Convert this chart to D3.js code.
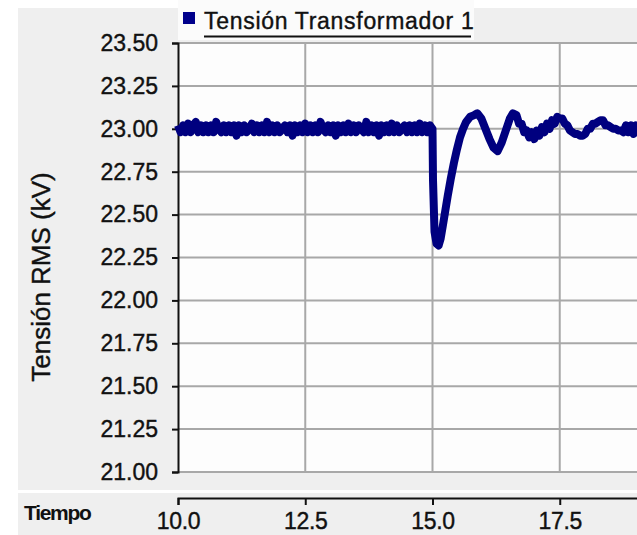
<!DOCTYPE html>
<html>
<head>
<meta charset="utf-8">
<script src="https://cdn.jsdelivr.net/npm/d3@7"></script>
<style>
  body { margin: 0; background: #fff; }
  text { font-family: "Liberation Sans", Arial, sans-serif; fill: #111; }
</style>
</head>
<body>
<svg width="637" height="535"></svg>
<script>
// Series: RMS voltage (kV) against time (s)
var seriesName = "Tensión Transformador 1";

// before the fault: sampled every 0.05 s from 10.00 to 15.00
var preStart = 10.0, sampleStep = 0.05;
var preValues = [23.02, 22.98, 23.02, 22.98, 23.03, 22.98, 23.02, 23.04, 22.98, 23.02,
  22.98, 23.02, 22.98, 23.02, 22.98, 23.04, 23.00, 22.98, 23.02, 22.98,
  23.02, 22.98, 23.02, 22.96, 23.02, 22.98, 23.02, 22.98, 23.00, 23.03,
  22.98, 23.02, 22.98, 23.02, 22.98, 23.04, 22.98, 23.02, 22.98, 23.02,
  22.98, 23.00, 23.02, 22.98, 23.02, 22.96, 23.02, 22.98, 23.02, 22.98,
  23.03, 22.98, 23.02, 22.98, 23.02, 22.98, 23.04, 23.00, 22.98, 23.02,
  22.98, 23.02, 22.96, 23.02, 22.98, 23.02, 22.98, 23.03, 22.98, 23.02,
  22.98, 23.02, 23.00, 22.98, 23.04, 22.98, 23.02, 22.98, 23.02, 22.96,
  23.02, 22.98, 23.02, 22.98, 23.03, 22.98, 23.02, 22.98, 23.00, 23.02,
  22.98, 23.02, 22.98, 23.02, 22.98, 23.03, 22.98, 23.02, 22.98, 23.02,
  23.00];

// fault and recovery, uneven sample times
var faultTimes = [15.01, 15.04, 15.08, 15.12, 15.16, 15.20, 15.25, 15.30, 15.36, 15.42,
  15.48, 15.54, 15.60, 15.66, 15.74, 15.82, 15.88, 15.96, 16.04, 16.12,
  16.20, 16.28, 16.36, 16.44, 16.52, 16.58];
var faultValues = [22.70, 22.40, 22.33, 22.32, 22.36, 22.43, 22.52, 22.61, 22.71, 22.80,
  22.88, 22.95, 23.00, 23.04, 23.07, 23.08, 23.09, 23.06, 23.00, 22.94,
  22.89, 22.87, 22.92, 22.99, 23.06, 23.09];

// settling: sampled every 0.05 s from 16.65 to 20.00
var postStart = 16.65;
var postValues = [23.08, 23.03, 23.03, 22.98, 22.99, 22.95, 22.98, 22.94, 22.99, 22.96,
  23.01, 22.98, 23.03, 23.00, 23.05, 23.03, 23.07, 23.06, 23.06, 23.03,
  23.02, 22.99, 22.98, 22.97, 22.97, 22.96, 22.96, 22.97, 23.00, 23.00,
  23.03, 23.03, 23.04, 23.05, 23.05, 23.02, 23.02, 23.01, 23.00, 23.00,
  22.99, 22.99, 22.98, 23.02, 22.98, 23.02, 22.97, 23.02, 22.98, 23.03,
  22.98, 23.02, 22.97, 23.02, 23.00, 22.98, 23.03, 22.98, 23.02, 22.97,
  23.02, 22.98, 23.03, 22.98, 23.02, 22.98, 23.00, 23.02];

var yTicks = [21.00, 21.25, 21.50, 21.75, 22.00, 22.25, 22.50, 22.75, 23.00, 23.25, 23.50];
var xTicks = [10.0, 12.5, 15.0, 17.5];

var svg = d3.select("svg"),
    width = +svg.attr("width"),
    height = +svg.attr("height");

var data = preValues.map(function(v, i) { return { t: preStart + i * sampleStep, v: v }; })
  .concat(faultTimes.map(function(t, i) { return { t: t, v: faultValues[i] }; }))
  .concat(postValues.map(function(v, i) { return { t: postStart + i * sampleStep, v: v }; }));

// Scales (the plot runs past the right edge of the window)
var x = d3.scaleLinear().domain([10, 20]).range([178, 687]);
var y = d3.scaleLinear().domain([21, 23.5]).range([472, 43]);

// Grey panels behind everything
svg.append("rect").attr("x", 18).attr("y", 8).attr("width", width - 18).attr("height", 482)
  .attr("fill", "#efefef");
svg.append("rect").attr("x", 18).attr("y", 493).attr("width", width - 18).attr("height", height - 493)
  .attr("fill", "#efefef");

// Plot area
svg.append("rect").attr("x", x(10)).attr("y", y(23.5))
  .attr("width", width - x(10)).attr("height", y(21) - y(23.5))
  .attr("fill", "#fdfdfd");

// Grid
var grid = svg.append("g").attr("stroke", "#a8a8a8").attr("stroke-width", 2);
grid.selectAll(".hg").data(yTicks).enter().append("line")
  .attr("x1", x(10)).attr("x2", width)
  .attr("y1", function(d) { return y(d); }).attr("y2", function(d) { return y(d); });
grid.selectAll(".vg").data(xTicks.slice(1)).enter().append("line")
  .attr("x1", function(d) { return x(d); }).attr("x2", function(d) { return x(d); })
  .attr("y1", y(23.5)).attr("y2", y(21));

// Legend
svg.append("rect").attr("x", 178).attr("y", 0).attr("width", 296).attr("height", 40)
  .attr("fill", "#fbfbfb");
svg.append("rect").attr("x", 183).attr("y", 12).attr("width", 12).attr("height", 12)
  .attr("fill", "#00008b");
svg.append("text").attr("x", 204).attr("y", 29)
  .style("font-size", "23px").style("letter-spacing", "0.7px")
  .attr("stroke", "#111").attr("stroke-width", 0.4)
  .text(seriesName);
svg.append("line").attr("x1", 204).attr("x2", 471).attr("y1", 36.5).attr("y2", 36.5)
  .attr("stroke", "#111").attr("stroke-width", 2);

// Y axis
var yAxis = d3.axisLeft(y).tickValues(yTicks).tickSize(6).tickPadding(14)
  .tickFormat(d3.format(".2f"));
var gy = svg.append("g").attr("transform", "translate(" + x(10) + ",0)").call(yAxis);
gy.select(".domain").attr("stroke", "#111").attr("stroke-width", 2);
gy.selectAll(".tick line").attr("stroke", "#111").attr("stroke-width", 2);
gy.selectAll(".tick text").style("font-size", "23px").style("letter-spacing", "0px")
  .attr("fill", "#111").attr("stroke", "#111").attr("stroke-width", 0.4);

// X axis on its own panel
var xAxis = d3.axisBottom(x).tickValues(xTicks).tickSize(7).tickPadding(8)
  .tickFormat(d3.format(".1f"));
var gx = svg.append("g").attr("transform", "translate(0,498)").call(xAxis);
gx.select(".domain").attr("stroke", "#111").attr("stroke-width", 2);
gx.selectAll(".tick line").attr("stroke", "#111").attr("stroke-width", 2);
gx.selectAll(".tick text").style("font-size", "23px").style("letter-spacing", "-0.3px")
  .attr("fill", "#111").attr("stroke", "#111").attr("stroke-width", 0.4);

svg.append("text").attr("x", 24).attr("y", 520)
  .style("font-size", "21px").style("font-weight", "bold").style("letter-spacing", "-1.3px")
  .text("Tiempo");

// Y axis title
svg.append("text")
  .attr("transform", "translate(50,277) rotate(-90)")
  .attr("text-anchor", "middle")
  .style("font-size", "26px")
  .attr("stroke", "#111").attr("stroke-width", 0.4)
  .text("Tensión RMS (kV)");

// The voltage trace
var line = d3.line()
  .x(function(d) { return x(d.t); })
  .y(function(d) { return y(d.v); });

svg.append("path")
  .datum(data)
  .attr("d", line)
  .attr("fill", "none")
  .attr("stroke", "#00007f")
  .attr("stroke-width", 8)
  .attr("stroke-linejoin", "round");
</script>
</body>
</html>
